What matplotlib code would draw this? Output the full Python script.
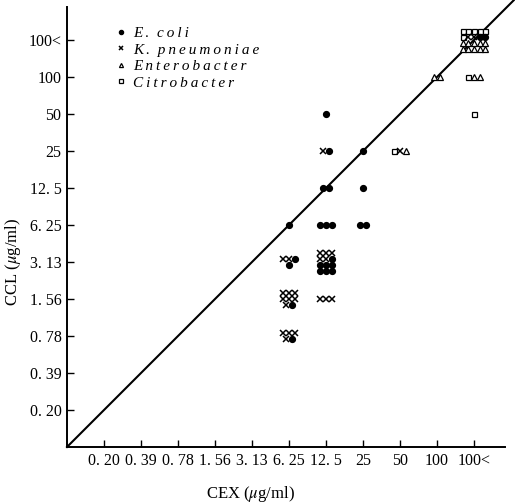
import matplotlib.pyplot as plt
from collections import defaultdict

plt.rcParams["font.family"] = ["Liberation Serif", "DejaVu Serif"]
plt.rcParams["mathtext.fontset"] = "stix"

# MIC levels (ug/ml), same scale on both axes
levels = ["0.20", "0.39", "0.78", "1.56", "3.13", "6.25", "12.5", "25", "50", "100", "100<"]
tick_labels = ["0. 20", "0. 39", "0. 78", "1. 56", "3. 13", "6. 25", "12. 5", "25", "50", "100", "100<"]

# CEX / CCL pairs per species
ecoli_cex = ["12.5", "12.5", "25", "12.5", "12.5", "25", "6.25", "12.5", "12.5", "12.5", "25", "25",
             "6.25", "6.25"] + ["12.5"] * 7 + ["6.25", "6.25", "100<", "100<"]
ecoli_ccl = ["50", "25", "25", "12.5", "12.5", "12.5", "6.25", "6.25", "6.25", "6.25", "6.25", "6.25",
             "3.13", "3.13"] + ["3.13"] * 7 + ["1.56", "0.78", "100<", "100<"]

kpn_cex = ["12.5", "6.25", "6.25"] + ["12.5"] * 5 + ["6.25"] * 7 + ["12.5"] * 3 + ["6.25"] * 4 + ["50", "100<", "100<"]
kpn_ccl = ["25", "3.13", "3.13"] + ["3.13"] * 5 + ["1.56"] * 7 + ["1.56"] * 3 + ["0.78"] * 4 + ["25", "100<", "100<"]

ent_cex = ["50", "100", "100", "100<", "100<"] + ["100<"] * 10
ent_ccl = ["25", "100", "100", "100", "100"] + ["100<"] * 10

cit_cex = ["50", "100<", "100<"] + ["100<"] * 6
cit_ccl = ["25", "100", "50"] + ["100<"] * 6

species = [
    ("Citrobacter", cit_cex, cit_ccl, dict(marker="s", mfc="white", mec="black", ms=3.6, mew=0.9)),
    ("K. pneumoniae", kpn_cex, kpn_ccl, dict(marker="x", color="black", ms=3.8, mew=1.1)),
    ("E. coli", ecoli_cex, ecoli_ccl, dict(marker="o", color="black", ms=4.2)),
    ("Enterobacter", ent_cex, ent_ccl, dict(marker="^", mfc="white", mec="black", ms=4.2, mew=0.9)),
]

# group points sharing a cell so they can be spread side by side
cells = defaultdict(list)
for name, cex, ccl, style in species:
    for a, b in zip(cex, ccl):
        cells[(levels.index(a) + 1, levels.index(b) + 1)].append(name)

dx, dy = 0.15, 0.17
pos = defaultdict(lambda: ([], []))
for (cx, cy), names in cells.items():
    n = len(names)
    ncol = 5 if n > 15 else min(n, 3)
    nrow = (n + ncol - 1) // ncol
    for i, name in enumerate(names):
        r, c = divmod(i, ncol)
        in_row = min(ncol, n - r * ncol)
        pos[name][0].append(cx + (c - (in_row - 1) / 2) * dx)
        pos[name][1].append(cy + ((nrow - 1) / 2 - r) * dy)

fig = plt.figure(figsize=(5.15, 5.03), dpi=100)
ax = fig.add_axes([67 / 515, 56 / 503, 438 / 515, 440 / 503])

ax.plot([0, 12.1], [0, 12.1], color="black", lw=1.5, clip_on=False, zorder=1)

handles = {}
for name, cex, ccl, style in species:
    xs, ys = pos[name]
    handles[name], = ax.plot(xs, ys, ls="none", zorder=3, **style)


def spaced(s):
    return "\u2009".join(s)


order = ["E. coli", "K. pneumoniae", "Enterobacter", "Citrobacter"]
labels = [spaced("E.") + "  " + spaced("coli"), spaced("K.") + "  " + spaced("pneumoniae"),
          spaced("Enterobacter"), spaced("Citrobacter")]
ax.legend([handles[k] for k in order], labels, loc="upper left", bbox_to_anchor=(0.095, 0.973),
          frameon=False, prop=dict(style="italic", size=11), markerscale=0.7,
          handlelength=0.6, handletextpad=0.5, labelspacing=0.18, borderpad=0)

ax.set_xlim(0, 438 / 37)
ax.set_ylim(0, 440 / 37)
ticks = list(range(1, len(levels) + 1))
ax.set_xticks(ticks)
ax.set_xticklabels(tick_labels, fontsize=11.5)
ax.set_yticks(ticks)
ax.set_yticklabels(tick_labels, fontsize=11.5)
ax.tick_params(direction="in", length=5, width=1.0, pad=4)

for s in ["top", "right"]:
    ax.spines[s].set_visible(False)
for s in ["left", "bottom"]:
    ax.spines[s].set_linewidth(1.4)

ax.set_xlabel(r"CEX ($\mu$g/ml)", fontsize=12, labelpad=6)
ax.xaxis.set_label_coords(0.418, -0.085)
ax.set_ylabel(r"CCL ($\mu$g/ml)", fontsize=12)
ax.yaxis.set_label_coords(-0.1, 0.42)

fig.savefig("out.png", dpi=100)
